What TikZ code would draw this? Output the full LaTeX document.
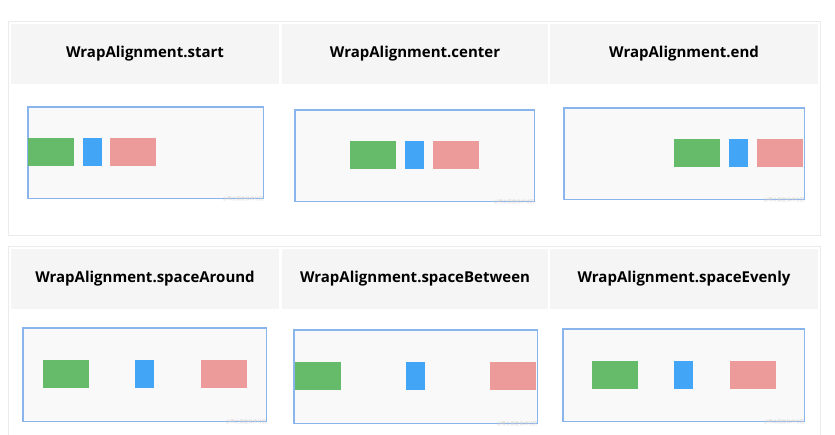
\documentclass[tikz,border=0pt]{standalone}
\usepackage{fontspec}
\setmainfont{Open Sans}
\newfontfamily\cjk{Noto Sans CJK SC}
\usetikzlibrary{positioning}

\definecolor{panelline}{HTML}{EBEBEB}
\definecolor{headfill}{HTML}{F5F5F5}
\definecolor{framefill}{HTML}{F9F9F9}
\definecolor{frameline}{HTML}{8AB4EC}
\definecolor{wgreen}{HTML}{66BB6A}
\definecolor{wblue}{HTML}{42A5F5}
\definecolor{wpink}{HTML}{EC9A9A}

\begin{document}
\begin{tikzpicture}[%
    x=1pt, y=-1pt,
    panel/.style={draw=panelline, line width=0.8pt},
    head/.style={fill=headfill, inner sep=0pt, minimum height=60pt,
      font=\fontsize{15}{18}\selectfont\bfseries},
    frame/.style={draw=frameline, fill=framefill, line width=0.9pt, inner sep=0pt},
    bar/.style={inner sep=0pt, minimum height=28pt},
    gbar/.style={bar, fill=wgreen, minimum width=46pt},
    bbar/.style={bar, fill=wblue, minimum width=19pt},
    rbar/.style={bar, fill=wpink, minimum width=46pt},
    wmark/.style={inner sep=0pt, text=gray!40, font=\cjk\fontsize{4.5}{5}\selectfont}
  ]
    \useasboundingbox[fill=white] (0,0) rectangle (835,435);

    % outer panels
    \node[panel, minimum width=812pt, minimum height=214pt] (P1) at (414,128) {};
    \node[panel, minimum width=812pt, minimum height=214pt] (P2) at (414,353) {};

    % headers
    \node[head, minimum width=268pt] (H1) at (145,54) {WrapAlignment.start};
    \node[head, minimum width=266pt] (H2) at (415,54) {WrapAlignment.center};
    \node[head, minimum width=268pt] (H3) at (684,54) {WrapAlignment.end};
    \node[head, minimum width=268pt] (H4) at (145,279) {WrapAlignment.spaceAround};
    \node[head, minimum width=266pt] (H5) at (415,279) {WrapAlignment.spaceBetween};
    \node[head, minimum width=268pt] (H6) at (684,279) {WrapAlignment.spaceEvenly};

    % frames
    \node[frame, minimum width=235pt, minimum height=91pt] (F1) at (145.5,152.5) {};
    \node[frame, minimum width=239pt, minimum height=91pt] (F2) at (414.5,155.5) {};
    \node[frame, minimum width=240pt, minimum height=91pt] (F3) at (684,153.5) {};
    \node[frame, minimum width=243pt, minimum height=93pt] (F4) at (144.5,374.5) {};
    \node[frame, minimum width=243pt, minimum height=93pt] (F5) at (415.5,376.5) {};
    \node[frame, minimum width=241pt, minimum height=92pt] (F6) at (683.5,375) {};

    % start
    \node[gbar] (G1) at (51,152.5) {};
    \node[bbar] (B1) at (92,152.5) {};
    \node[rbar] (R1) at (132.5,152.5) {};
    % center
    \node[gbar] (G2) at (373,155.5) {};
    \node[bbar] (B2) at (414.5,155.5) {};
    \node[rbar] (R2) at (456,155.5) {};
    % end
    \node[gbar] (G3) at (697,153.5) {};
    \node[bbar] (B3) at (738.5,153.5) {};
    \node[rbar] (R3) at (780,153.5) {};
    % spaceAround
    \node[gbar] (G4) at (65.5,374) {};
    \node[bbar] (B4) at (144.5,374) {};
    \node[rbar] (R4) at (223.5,374) {};
    % spaceBetween
    \node[gbar] (G5) at (318,376) {};
    \node[bbar] (B5) at (415.5,376) {};
    \node[rbar] (R5) at (512.5,376) {};
    % spaceEvenly
    \node[gbar] (G6) at (614.5,375) {};
    \node[bbar] (B6) at (683.5,375) {};
    \node[rbar] (R6) at (752.5,375) {};

    % frame outlines on top, and the watermarks
    \foreach \f in {F1,F2,F3,F4,F5,F6} {
      \draw[frameline, line width=0.9pt] (\f.north west) rectangle (\f.south east);
      \node[wmark, anchor=east] at ([yshift=-1pt]\f.south east) {@稀土掘金技术社区};
    }
\end{tikzpicture}
\end{document}
